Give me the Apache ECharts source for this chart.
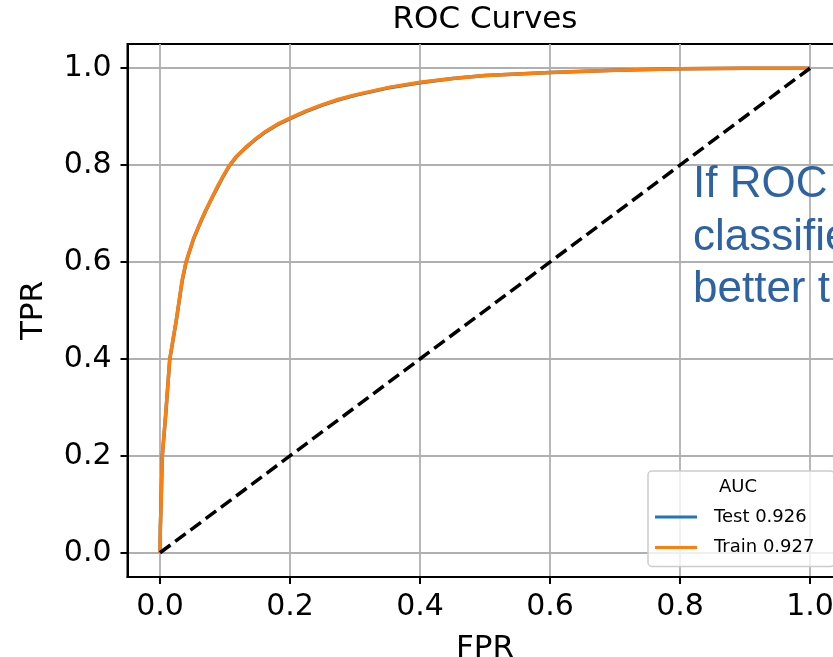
<!DOCTYPE html>
<html>
<head>
<meta charset="utf-8">
<script src="https://cdn.jsdelivr.net/npm/echarts@6/dist/echarts.min.js"></script>
<style>
  html, body { margin: 0; padding: 0; background: #fff; }
  #chart { width: 833px; height: 657px; }
</style>
</head>
<body>
<div id="chart"></div>
<script>
// values
const fpr = [0, 0.0005, 0.0015, 0.0035, 0.009, 0.015, 0.025, 0.034, 0.040, 0.052, 0.062, 0.070, 0.080, 0.088, 0.097, 0.106, 0.118, 0.132, 0.147, 0.163, 0.18, 0.2, 0.225, 0.25, 0.275, 0.3, 0.35, 0.4, 0.45, 0.5, 0.6, 0.7, 0.8, 0.9, 1.0];
const tprTest = [0, 0.05, 0.093, 0.199, 0.289, 0.399, 0.479, 0.56, 0.599, 0.649, 0.681, 0.705, 0.732, 0.753, 0.776, 0.797, 0.818, 0.836, 0.853, 0.869, 0.883, 0.896, 0.911, 0.924, 0.935, 0.944, 0.959, 0.970, 0.979, 0.985, 0.991, 0.996, 0.999, 1.0, 1.0];
const tprTrain = [0, 0.05, 0.094, 0.2, 0.29, 0.4, 0.48, 0.562, 0.6, 0.65, 0.682, 0.706, 0.733, 0.755, 0.777, 0.798, 0.819, 0.837, 0.854, 0.87, 0.884, 0.897, 0.912, 0.925, 0.936, 0.945, 0.96, 0.971, 0.979, 0.985, 0.991, 0.996, 0.999, 1.0, 1.0];
const diagonal = [[0, 0], [1, 1]];
const tickValues = [0, 0.2, 0.4, 0.6, 0.8, 1.0];
const seriesNames = ["Test 0.926", "Train 0.927"];

const font = "DejaVu Sans";

const chart = echarts.init(document.getElementById("chart"));

function axisCommon() {
  return {
    type: "value",
    min: -0.05,
    max: 1.05,
    axisLine: { show: true, onZero: false, lineStyle: { color: "#000", width: 2 } },
    axisTick: { show: true, length: 7, customValues: tickValues, lineStyle: { color: "#000", width: 2 } },
    axisLabel: {
      customValues: tickValues,
      formatter: (v) => v.toFixed(1),
      fontFamily: font,
      fontSize: 30,
      color: "#000",
    },
    splitLine: { show: true, lineStyle: { color: "#b0b0b0", width: 1.8 } },
    nameLocation: "middle",
    nameTextStyle: { fontFamily: font, fontSize: 31, color: "#000" },
  };
}

const xAxis = axisCommon();
xAxis.name = "FPR";
xAxis.nameGap = 56;
xAxis.axisLabel.margin = 15;

const yAxis = axisCommon();
yAxis.name = "TPR";
yAxis.nameGap = 78;
yAxis.axisLabel.margin = 16;

let option = {
  animation: false,
  backgroundColor: "#fff",
  title: {
    text: "ROC Curves",
    left: 485,
    textAlign: "center",
    top: 4,
    padding: 0,
    textStyle: { fontFamily: font, fontSize: 31, fontWeight: "normal", color: "#000" },
  },
  grid: {
    left: 127.5,
    top: 44,
    width: 715,
    height: 533,
    show: true,
    borderColor: "#000",
    borderWidth: 2,
    containLabel: false,
    outerBoundsMode: "none",
  },
  xAxis: xAxis,
  yAxis: yAxis,
  legend: {
    data: seriesNames,
    orient: "vertical",
    left: 648,
    top: 471,
    padding: [35, 20, 8, 7],
    itemGap: 8.5,
    itemWidth: 42,
    itemHeight: 3,
    icon: "rect",
    backgroundColor: "rgba(255,255,255,0.8)",
    borderColor: "#cccccc",
    borderWidth: 1.5,
    borderRadius: 4,
    textStyle: { fontFamily: font, fontSize: 18, lineHeight: 22, color: "#000", padding: [0, 0, 0, 12] },
    z: 10,
  },
  graphic: [
    {
      type: "text",
      x: 738,
      y: 487,
      z: 100,
      style: { text: "AUC", fontFamily: font, fontSize: 18, fill: "#000", align: "center", verticalAlign: "middle" },
    },
    {
      type: "text",
      x: 693,
      y: 159,
      z: 50,
      style: {
        text: "If ROC curve is above\nclassifier is\nbetter than random",
        fontFamily: "Liberation Sans",
        fontSize: 44,
        lineHeight: 52.5,
        fill: "#2e63a3",
        align: "left",
        verticalAlign: "top",
      },
    },
  ],
  series: [
    {
      name: seriesNames[0],
      type: "line",
      data: fpr.map((x, i) => [x, tprTest[i]]),
      showSymbol: false,
      symbol: "none",
      lineStyle: { color: "#1f77b4", width: 3.5, join: "round" },
      itemStyle: { color: "#1f77b4" },
      z: 2,
    },
    {
      name: seriesNames[1],
      type: "line",
      data: fpr.map((x, i) => [x, tprTrain[i]]),
      showSymbol: false,
      symbol: "none",
      lineStyle: { color: "#ff7f0e", width: 3.5, join: "round" },
      itemStyle: { color: "#ff7f0e" },
      z: 3,
    },
    {
      name: "diagonal",
      type: "line",
      data: diagonal,
      showSymbol: false,
      symbol: "none",
      lineStyle: { color: "#000", width: 3.5, type: [13, 6] },
      z: 4,
    },
  ],
};

chart.setOption(option);
</script>
</body>
</html>
